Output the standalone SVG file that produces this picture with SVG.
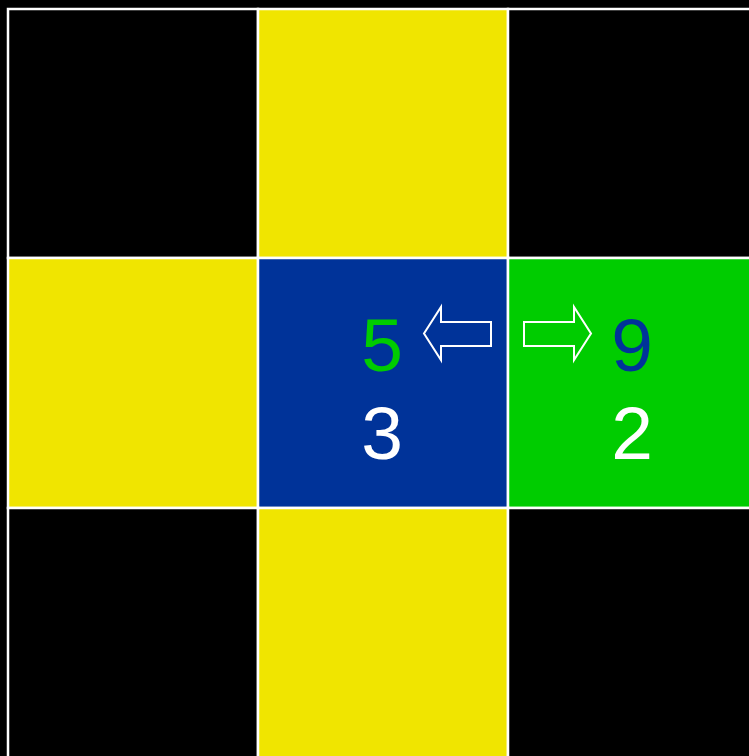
<svg xmlns="http://www.w3.org/2000/svg" width="749" height="756" viewBox="0 0 749 756">
<style>
.cell{stroke:#ffffff;stroke-width:2.5}
.k{fill:#000000}
.y{fill:#f0e500}
.b{fill:#003399}
.g{fill:#00cc00}
.t{font-family:"Liberation Sans",Arial,sans-serif;font-size:75px;text-anchor:middle}
.arr{fill:none;stroke:#ffffff;stroke-width:2}
</style>
<rect x="0" y="0" width="749" height="756" fill="#000000"/>
<g id="c00"><rect class="cell k" x="8" y="9" width="250" height="249"/></g>
<g id="c01"><rect class="cell y" x="258" y="9" width="250" height="249"/></g>
<g id="c02"><rect class="cell k" x="508" y="9" width="250" height="249"/></g>
<g id="c10"><rect class="cell y" x="8" y="258" width="250" height="250"/></g>
<g id="c11"><rect class="cell b" x="258" y="258" width="250" height="250"/>
<text class="t" x="382" y="371" fill="#00cc00">5</text>
<text class="t" x="382" y="459" fill="#ffffff">3</text></g>
<g id="c12"><rect class="cell g" x="508" y="258" width="250" height="250"/>
<text class="t" x="632" y="371" fill="#003399">9</text>
<text class="t" x="632" y="459" fill="#ffffff">2</text></g>
<g id="c20"><rect class="cell k" x="8" y="508" width="250" height="260"/></g>
<g id="c21"><rect class="cell y" x="258" y="508" width="250" height="260"/></g>
<g id="c22"><rect class="cell k" x="508" y="508" width="250" height="260"/></g>
<g id="connectors">
<path class="arr" d="M491,322 L441,322 L441,307 L424,333.5 L441,360 L441,346 L491,346 Z"/>
<path class="arr" d="M524,322 L574,322 L574,307 L591,333.5 L574,360 L574,346 L524,346 Z"/>
</g>
</svg>
